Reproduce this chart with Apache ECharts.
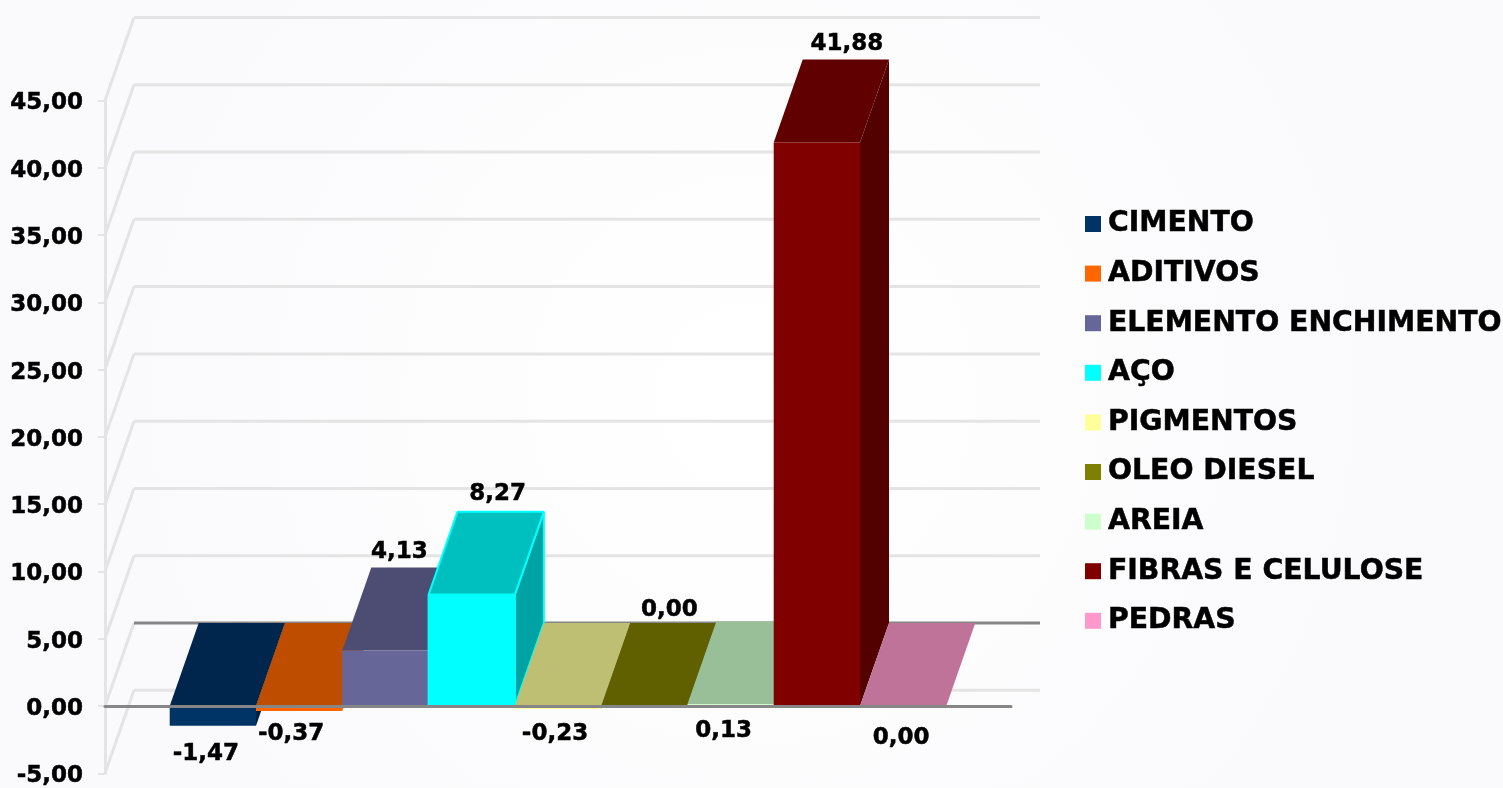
<!DOCTYPE html>
<html><head><meta charset="utf-8">
<style>html,body{margin:0;padding:0;background:#fff}#c{width:1503px;height:788px}</style>
<script src="https://cdn.jsdelivr.net/npm/echarts@6/dist/echarts.min.js"></script>
</head><body><div id="c"></div>
<script>
const names = ['CIMENTO','ADITIVOS','ELEMENTO ENCHIMENTO','AÇO','PIGMENTOS','OLEO DIESEL','AREIA','FIBRAS E CELULOSE','PEDRAS'];
const values = [-1.47,-0.37,4.13,8.27,-0.23,0.00,0.13,41.88,0.00];
const colors = ['#003366','#FF6600','#666699','#00FFFF','#FFFF99','#808000','#CCFFCC','#800000','#FF99CC'];
const ticks = [-5,0,5,10,15,20,25,30,35,40,45];
// label nudge, in pixels, from the centre of each bar's front top edge
const labelNudgeX = [-7,-8,14,26,-3,25,-7,30,-2];
const labelY = [754,734,552,494,734,610,731,44,738];

const DX = 29, DY = 83, FONT = '"DejaVu Sans", Verdana, sans-serif';
const shade = (hex, k) => {
  const n = parseInt(hex.slice(1), 16);
  const c = s => Math.round(((n >> s) & 255) * k);
  return `rgb(${c(16)},${c(8)},${c(0)})`;
};
const fmt = v => v.toFixed(2).replace('.', ',');

function wall(params, api) {
  const cs = params.coordSys, t = api.value(0), y = api.coord([0, t])[1];
  const x0 = cs.x, x1 = cs.x + cs.width;
  return { type: 'group', children: [
    { type: 'polyline', shape: { points: [[x0, y], [x0 + DX, y - DY]] }, style: { stroke: '#e4e4e4', lineWidth: 3, fill: null } },
    { type: 'line', shape: { x1: x0 + DX, y1: y - DY, x2: x1 + DX, y2: y - DY }, style: { stroke: t === 0 ? '#868686' : '#e4e4e4', lineWidth: 3 } }
  ]};
}

function bar(i) {
  return function (params, api) {
    const v = api.value(1);
    const band = api.size([1, 0])[0];
    const w = band / (names.length + 1.5);
    const cx = api.coord([0, 0])[0];
    const xl = cx - w * names.length / 2 + i * w, xr = xl + w;
    const y0 = api.coord([0, 0])[1], yv = api.coord([0, v])[1];
    const yt = Math.min(y0, yv), yb = Math.max(y0, yv);
    const col = colors[i];
    const edge = i === 3 ? { stroke: '#00FFFF', lineWidth: 2, lineJoin: 'bevel' } : {};
    const poly = (pts, fill) => ({ type: 'polygon', shape: { points: pts }, style: Object.assign({ fill }, edge) });
    return { type: 'group', children: [
      poly([[xr, yb], [xr + DX, yb - DY], [xr + DX, yt - DY], [xr, yt]], shade(col, 0.64)),
      poly([[xl, yt], [xl + DX, yt - DY], [xr + DX, yt - DY], [xr, yt]], shade(col, 0.75)),
      poly([[xl, yt], [xr, yt], [xr, yb], [xl, yb]], col),
      { type: 'text', z2: 100, style: { text: fmt(v), x: (xl + xr) / 2 + labelNudgeX[i], y: labelY[i],
        align: 'center', verticalAlign: 'middle', fill: '#000', stroke: '#000', lineWidth: 0.5, font: `bold 23px ${FONT}` } }
    ]};
  };
}

const series = [{
  type: 'custom', name: 'wall', silent: true, z: 1, clip: false,
  data: ticks.map(t => [t]), encode: { y: 0 }, renderItem: wall
}].concat(names.map((n, i) => ({
  type: 'custom', name: n, z: 3 + i, clip: false,
  itemStyle: { color: colors[i] },
  data: [[0, values[i]]], encode: { x: 0, y: 1 }, renderItem: bar(i)
})));

const chart = echarts.init(document.getElementById('c'), null, { renderer: 'canvas' });
chart.setOption({
  animation: false,
  backgroundColor: { type: 'radial', x: 0.5, y: 0.5, r: 0.8, colorStops: [{ offset: 0, color: '#ffffff' }, { offset: 1, color: '#fafafc' }] },
  grid: { left: 105, right: 492, top: 100.5, bottom: 14.5, containLabel: false },
  xAxis: { type: 'category', data: [''], z: 20,
    axisLine: { onZero: true, lineStyle: { color: '#868686', width: 3 } },
    axisTick: { show: false }, axisLabel: { show: false }, splitLine: { show: false } },
  yAxis: { type: 'value', min: -5, max: 45, interval: 5,
    axisLine: { show: true, lineStyle: { color: '#e4e4e4', width: 3 } },
    axisTick: { show: true, length: 7, lineStyle: { color: '#e4e4e4', width: 2 } },
    splitLine: { show: false },
    axisLabel: { margin: 22, formatter: v => `{v|${fmt(v)}}`,
      rich: { v: { color: '#000', fontFamily: FONT, fontWeight: 'bold', fontSize: 23, height: 23, lineHeight: 23, padding: [6, 0, 0, 0],
        textBorderColor: '#000', textBorderWidth: 0.5 } } } },
  legend: { orient: 'vertical', left: 1085, top: 203, padding: 0, itemWidth: 16, itemHeight: 16, itemGap: 7.6,
    data: names.map(n => ({ name: n, icon: 'rect' })),
    textStyle: { color: '#000', fontFamily: FONT, fontWeight: 'bold', fontSize: 28.3, padding: [8, 0, 0, 2], height: 34, lineHeight: 34,
      textBorderColor: '#000', textBorderWidth: 0.5 } },
  series
});
</script></body></html>
